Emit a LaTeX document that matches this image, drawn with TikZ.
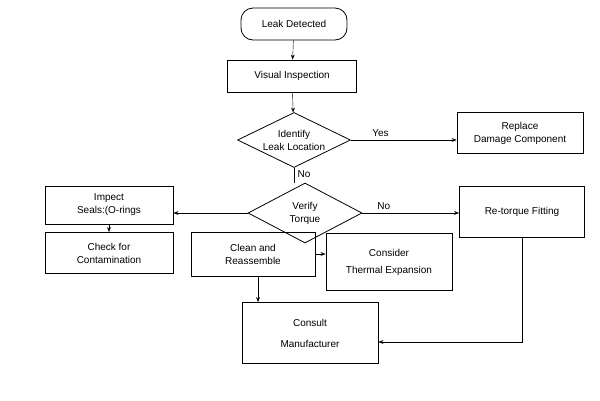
\documentclass[tikz,border=0pt]{standalone}
\usepackage{fontspec}
\setmainfont{Liberation Sans}
\usetikzlibrary{shapes.geometric,arrows.meta}
\begin{document}
\begin{tikzpicture}[x=1pt,y=-1pt,font=\fontsize{10}{13}\selectfont,
	box/.style={draw, thick, rectangle, align=center, inner sep=0pt},
	choice/.style={draw, thick, diamond, aspect=2, align=center, inner sep=1pt},
	arr/.style={-{Stealth[length=5pt]}, thin}]
	\useasboundingbox (0,0) rectangle (600,400);
	\node[box, rounded corners=12pt, minimum width=106pt, minimum height=32pt] (leak) at (294,24) {Leak Detected};
	\node[box, minimum width=129pt, minimum height=32pt] (visual) at (292,76) {Visual Inspection};
	\node[choice, minimum width=113pt, minimum height=55pt] (identify) at (294,140) {Identify\\Leak Location};
	\node[box, minimum width=126pt, minimum height=41pt] (replace) at (520,133) {Replace\\Damage Component};
	\node[choice, minimum width=114pt, minimum height=60pt] (verify) at (305,213) {Verify\\Torque};
	\node[box, minimum width=128pt, minimum height=38pt] (impect) at (109,205) {Impect\\Seals:(O-rings};
	\node[box, minimum width=128pt, minimum height=41pt] (check) at (109,253) {Check for\\Contamination};
	\node[box, minimum width=125pt, minimum height=51pt] (retorque) at (522,212) {Re-torque Fitting};
	\node[box, minimum width=124pt, minimum height=44pt] (clean) at (253,254) {Clean and\\Reassemble};
	\node[box, minimum width=126pt, minimum height=57pt] (consider) at (389,262) {Consider\\[4pt]Thermal Expansion};
	\node[box, minimum width=136pt, minimum height=61pt] (consult) at (310,333) {Consult\\[8pt]Manufacturer};
	\draw[arr] (leak) -- (visual);
	\draw[arr] (visual) -- (identify);
	\draw[arr] (identify.east) -- node[above, pos=0.28] {Yes} (replace.west |- identify.east);
	\draw (identify.south) -- node[right, pos=0.4] {No} (identify.south |- verify.north);
	\draw[arr] (verify.west) -- (impect.east |- verify.west);
	\draw[arr] (verify.east) -- node[above, pos=0.22] {No} (retorque.west |- verify.east);
	\draw[arr] (impect) -- (check);
	\draw[arr] (clean.east) -- (consider.west |- clean.east);
	\draw[arr] ([xshift=5pt]clean.south) -- ([xshift=5pt]clean.south |- consult.north);
	\draw[arr] (retorque.south) |- ([yshift=-9pt]consult.east);
\end{tikzpicture}
\end{document}
